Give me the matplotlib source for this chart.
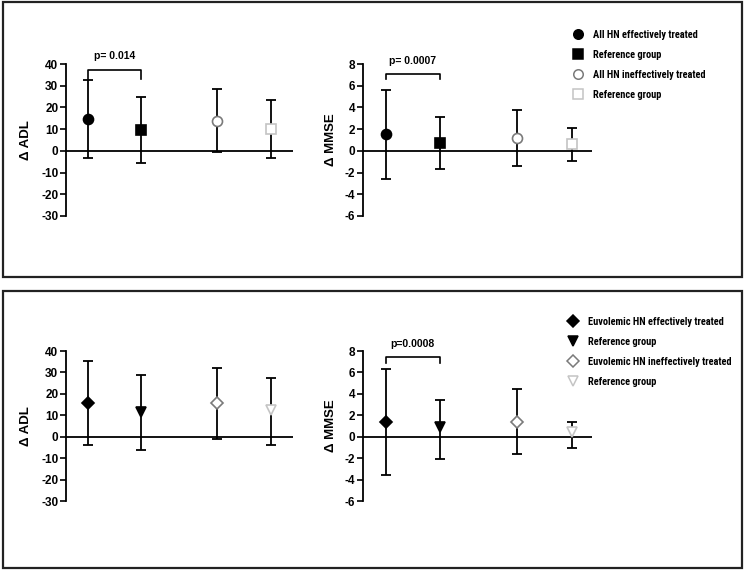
import matplotlib
matplotlib.use("Agg")
import matplotlib.pyplot as plt
from matplotlib.lines import Line2D
from matplotlib.patches import Rectangle
from matplotlib import font_manager

plt.rcParams['font.family'] = ['Liberation Sans', 'DejaVu Sans']
plt.rcParams['font.weight'] = 'bold'
plt.rcParams['axes.labelweight'] = 'bold'
plt.rcParams['axes.unicode_minus'] = False

# ---------------- data ----------------
top_labels = ["All HN effectively treated", "Reference group",
              "All HN ineffectively treated", "Reference group"]
bot_labels = ["Euvolemic HN effectively treated", "Reference group",
              "Euvolemic HN ineffectively treated", "Reference group"]

adl_top_mean = [14.7, 9.7, 13.9, 10.2]
adl_top_upper = [32.7, 24.9, 28.3, 23.6]
adl_top_lower = [-3.4, -5.6, -0.6, -3.4]

mmse_top_mean = [1.52, 0.74, 1.15, 0.59]
mmse_top_upper = [5.64, 3.13, 3.72, 2.11]
mmse_top_lower = [-2.57, -1.64, -1.43, -0.90]

adl_bot_mean = [15.5, 11.7, 15.5, 12.5]
adl_bot_upper = [35.2, 28.6, 32.0, 27.2]
adl_bot_lower = [-4.1, -6.4, -1.1, -4.1]

mmse_bot_mean = [1.34, 0.93, 1.40, 0.40]
mmse_bot_upper = [6.29, 3.43, 4.42, 1.34]
mmse_bot_lower = [-3.61, -2.06, -1.62, -1.03]

adl_ticks = [-30, -20, -10, 0, 10, 20, 30, 40]
mmse_ticks = [-6, -4, -2, 0, 2, 4, 6, 8]

p_adl_top = "p= 0.014"
p_mmse_top = "p= 0.0007"
p_mmse_bot = "p=0.0008"

# ---------------- styles ----------------
cond = None
paths = {f.fname.split('/')[-1]: f.fname for f in font_manager.fontManager.ttflist}
for cand in ['RobotoCondensed-Bold.ttf', 'AsapCondensed-Bold.ttf',
             'BarlowCondensed-SemiBold.ttf', 'DejaVuSansCondensed-Bold.ttf']:
    if cand in paths:
        cond = paths[cand]
        break
if cond:
    legend_prop = font_manager.FontProperties(fname=cond, size=7.5)
else:
    legend_prop = font_manager.FontProperties(family='Liberation Sans', weight='bold', size=6.2)

xpos = [1, 2, 3.43, 4.45]
top_markers = ['o', 's', 'o', 's']
bot_markers = ['D', 'v', 'D', 'v']
face = ['black', 'black', 'white', 'white']
edge = ['black', 'black', '#7a7a7a', '#c4c4c4']
msizes_top = [7.2, 7.0, 7.2, 7.0]
msizes_bot = [6.0, 7.5, 6.0, 7.5]

W, H = 745, 570
fig = plt.figure(figsize=(W / 100, H / 100), dpi=100)


def fx(px):
    return px / W


def fy(py):
    return 1 - py / H


for (x0, y0, x1, y1) in [(3, 2, 742, 277), (3, 291, 742, 568)]:
    fig.add_artist(Rectangle((fx(x0), fy(y1)), fx(x1 - x0), (y1 - y0) / H,
                             transform=fig.transFigure, fill=False,
                             edgecolor='#222222', linewidth=1.6))


def make_ax(left, right, top, bottom):
    return fig.add_axes([fx(left), fy(bottom), fx(right - left), (bottom - top) / H])


def style_ax(ax, ylim, ticks, ylabel, xlim, labx):
    ax.set_ylim(*ylim)
    ax.set_xlim(*xlim)
    for s in ['top', 'right', 'bottom']:
        ax.spines[s].set_visible(False)
    ax.spines['left'].set_linewidth(1.3)
    ax.set_xticks([])
    ax.set_yticks(ticks)
    ax.set_yticklabels([str(t) for t in ticks], fontweight='bold', fontsize=8.5)
    ax.tick_params(axis='y', length=4, width=1.2, pad=1.5)
    ax.axhline(0, color='black', linewidth=1.3, zorder=1)
    ax.set_ylabel(ylabel, fontsize=9.5, fontweight='bold')
    ax.yaxis.set_label_coords(labx, 0.5)


def draw(ax, means, upper, lower, markers, sizes):
    for i in range(len(means)):
        yerr = [[means[i] - lower[i]], [upper[i] - means[i]]]
        ax.errorbar([xpos[i]], [means[i]], yerr=yerr, fmt='none',
                    ecolor='black', elinewidth=1.3, capsize=3.4, capthick=1.3,
                    zorder=2)
        ax.plot([xpos[i]], [means[i]], marker=markers[i], markersize=sizes[i],
                markerfacecolor=face[i], markeredgecolor=edge[i],
                markeredgewidth=1.2, linestyle='none', zorder=3, clip_on=False)


def bracket(ax, top, drop, ytext, text):
    ax.plot([xpos[0], xpos[0], xpos[1], xpos[1]], [drop, top, top, drop],
            color='black', linewidth=1.2, clip_on=False)
    ax.text((xpos[0] + xpos[1]) / 2, ytext, text, ha='center', va='center',
            fontsize=7.5, fontweight='bold', clip_on=False)


def legend(labels, markers, sizes, x, ytop):
    handles = [Line2D([], [], marker=markers[i], markersize=sizes[i] * 0.95,
                      markerfacecolor=face[i], markeredgecolor=edge[i],
                      markeredgewidth=1.1, linestyle='none')
               for i in range(len(labels))]
    return fig.legend(handles, labels, loc='upper left',
                      bbox_to_anchor=(fx(x), fy(ytop)), frameon=False,
                      borderpad=0, borderaxespad=0, handlelength=1.0,
                      handletextpad=1.0, labelspacing=0.95, prop=legend_prop)


xl_adl = (0.585, 4.87)
xl_mmse = (0.575, 4.82)

ax1 = make_ax(66, 293, 64, 216)
style_ax(ax1, (-30, 40), adl_ticks, "Δ ADL", xl_adl, -0.15)
draw(ax1, adl_top_mean, adl_top_upper, adl_top_lower, top_markers, msizes_top)
bracket(ax1, 37.2, 33.2, 43.5, p_adl_top)

ax2 = make_ax(363, 592, 64, 216)
style_ax(ax2, (-6, 8), mmse_ticks, "Δ MMSE", xl_mmse, -0.115)
draw(ax2, mmse_top_mean, mmse_top_upper, mmse_top_lower, top_markers, msizes_top)
bracket(ax2, 7.07, 6.64, 8.25, p_mmse_top)
legend(top_labels, top_markers, msizes_top, 572.5, 30)

ax3 = make_ax(66, 293, 351, 501)
style_ax(ax3, (-30, 40), adl_ticks, "Δ ADL", xl_adl, -0.15)
draw(ax3, adl_bot_mean, adl_bot_upper, adl_bot_lower, bot_markers, msizes_bot)

ax4 = make_ax(363, 592, 351, 501)
style_ax(ax4, (-6, 8), mmse_ticks, "Δ MMSE", xl_mmse, -0.115)
draw(ax4, mmse_bot_mean, mmse_bot_upper, mmse_bot_lower, bot_markers, msizes_bot)
bracket(ax4, 7.47, 6.88, 8.65, p_mmse_bot)
legend(bot_labels, bot_markers, msizes_bot, 567.5, 317)

fig.savefig("out.png", dpi=100)
